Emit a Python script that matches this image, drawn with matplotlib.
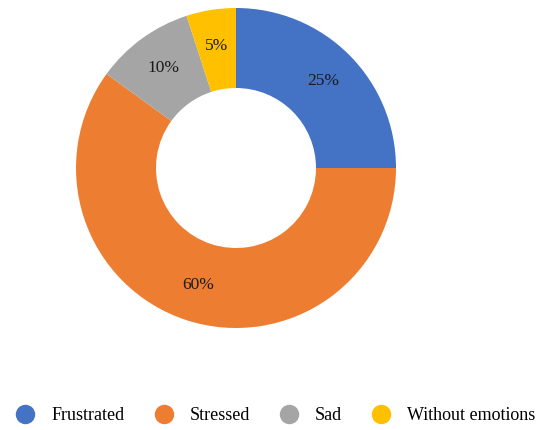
import matplotlib

matplotlib.use("Agg")
import matplotlib.pyplot as plt
from matplotlib.lines import Line2D

plt.rcParams["font.family"] = ["Liberation Serif", "DejaVu Serif"]

LABELS = ["Frustrated", "Stressed", "Sad", "Without emotions"]
SHARES = [25, 60, 10, 5]
COLORS = ["#4472C4", "#ED7D31", "#A5A5A5", "#FFC000"]

fig = plt.figure(figsize=(5.42, 4.30), dpi=100)
# pie axes: centre at (236, 168) px, outer radius ~160 px
ax = fig.add_axes([(236 - 160) / 542, 1 - (168 + 160) / 430, 320 / 542, 320 / 430])
ax.pie(
    SHARES,
    colors=COLORS,
    startangle=90,
    counterclock=False,
    radius=1.0,
    wedgeprops=dict(width=0.5, edgecolor="none"),
    autopct="%d%%",
    pctdistance=0.77,
    textprops=dict(color="#1a1a1a", fontsize=12.5),
)
ax.set_xlim(-1, 1)
ax.set_ylim(-1, 1)
ax.set_aspect("equal")

handles = [
    Line2D([], [], marker="o", linestyle="none", markersize=14,
           markerfacecolor=c, markeredgecolor="none")
    for c in COLORS
]
fig.legend(
    handles,
    LABELS,
    loc="center",
    bbox_to_anchor=(276 / 542, 1 - 416 / 430),
    ncol=4,
    frameon=False,
    fontsize=13,
    handletextpad=0.95,
    columnspacing=1.65,
    handlelength=1.0,
    borderpad=0,
)

fig.savefig("out.png", dpi=100, facecolor="white")
